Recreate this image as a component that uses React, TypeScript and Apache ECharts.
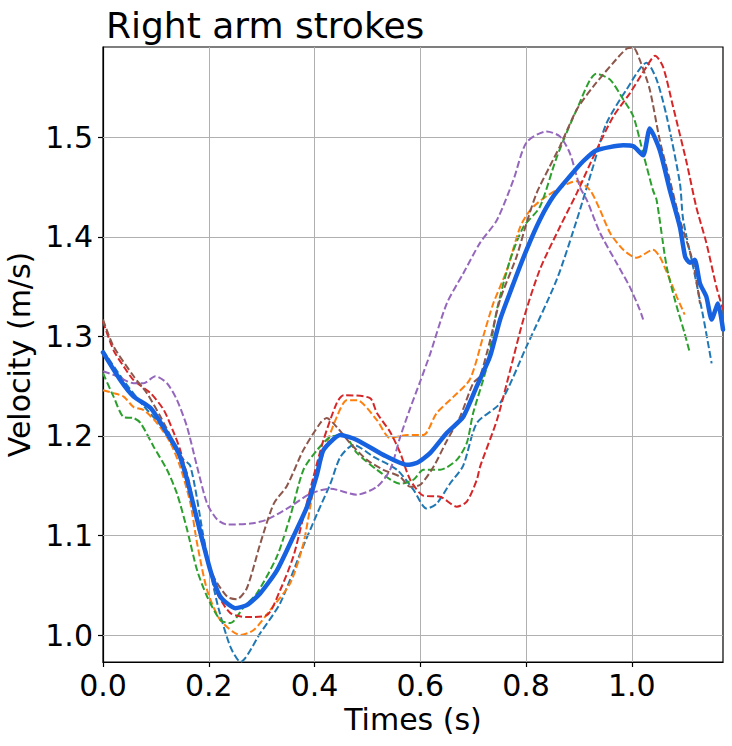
import React, { useEffect, useRef } from "react";
import * as echarts from "echarts";

const title = "Right arm strokes";
const xName = "Times (s)";
const yName = "Velocity (m/s)";
const xTicks = [0, 0.2, 0.4, 0.6, 0.8, 1.0];
const yTicks = [1.0, 1.1, 1.2, 1.3, 1.4, 1.5];
const xRange = [0, 1.1725];
const yRange = [0.9729, 1.5908];

const stroke1 = [[0,1.286],[0.04,1.255],[0.077,1.23],[0.11,1.21],[0.146,1.179],[0.165,1.17],[0.19,1.099],[0.216,1.032],[0.241,0.988],[0.26,0.973],[0.2975,1.002],[0.335,1.032],[0.373,1.082],[0.405,1.122],[0.43,1.152],[0.449,1.179],[0.474,1.191],[0.512,1.179],[0.556,1.166],[0.587,1.146],[0.612,1.127],[0.631,1.132],[0.656,1.152],[0.681,1.17],[0.707,1.213],[0.751,1.233],[0.801,1.29],[0.858,1.357],[0.896,1.417],[0.927,1.471],[0.952,1.514],[0.99,1.548],[1.028,1.575],[1.047,1.558],[1.066,1.521],[1.091,1.454],[1.097,1.418],[1.116,1.37],[1.135,1.32],[1.151,1.273]];
const stroke2 = [[0,1.246],[0.02,1.243],[0.039,1.2395],[0.058,1.229],[0.077,1.226],[0.102,1.213],[0.1275,1.193],[0.146,1.169],[0.165,1.133],[0.178,1.092],[0.197,1.045],[0.222,1.015],[0.26,1.0],[0.285,1.005],[0.316,1.025],[0.354,1.052],[0.379,1.092],[0.398,1.146],[0.417,1.183],[0.442,1.219],[0.461,1.236],[0.48,1.236],[0.518,1.216],[0.543,1.198],[0.575,1.201],[0.606,1.201],[0.631,1.223],[0.663,1.2395],[0.694,1.257],[0.719,1.3],[0.738,1.333],[0.764,1.367],[0.789,1.41],[0.808,1.427],[0.839,1.441],[0.896,1.456],[0.921,1.447],[0.94,1.427],[0.959,1.404],[0.984,1.387],[1.009,1.379],[1.04,1.387],[1.053,1.38],[1.072,1.357],[1.085,1.34],[1.1,1.322]];
const stroke3 = [[0,1.263],[0.02,1.2395],[0.039,1.219],[0.058,1.218],[0.071,1.213],[0.096,1.189],[0.121,1.166],[0.14,1.142],[0.159,1.106],[0.178,1.065],[0.197,1.0385],[0.222,1.015],[0.241,1.012],[0.266,1.028],[0.291,1.042],[0.329,1.079],[0.354,1.119],[0.379,1.166],[0.405,1.186],[0.43,1.199],[0.455,1.201],[0.48,1.183],[0.518,1.166],[0.562,1.152],[0.587,1.156],[0.606,1.166],[0.6375,1.166],[0.669,1.176],[0.688,1.193],[0.7,1.223],[0.726,1.27],[0.745,1.327],[0.77,1.377],[0.795,1.41],[0.826,1.43],[0.858,1.48],[0.896,1.528],[0.933,1.564],[0.959,1.558],[0.984,1.538],[1.003,1.521],[1.0215,1.484],[1.04,1.447],[1.047,1.437],[1.066,1.37],[1.085,1.33],[1.1,1.303],[1.11,1.283]];
const stroke4 = [[0,1.315],[0.02,1.286],[0.039,1.27],[0.058,1.256],[0.09,1.243],[0.115,1.226],[0.134,1.203],[0.146,1.186],[0.165,1.146],[0.184,1.102],[0.203,1.065],[0.216,1.042],[0.241,1.022],[0.272,1.018],[0.31,1.02],[0.335,1.045],[0.36,1.079],[0.379,1.119],[0.398,1.159],[0.417,1.196],[0.442,1.233],[0.455,1.241],[0.505,1.238],[0.518,1.223],[0.543,1.204],[0.562,1.183],[0.581,1.156],[0.606,1.14],[0.6375,1.139],[0.669,1.129],[0.688,1.134],[0.707,1.156],[0.713,1.169],[0.745,1.216],[0.77,1.266],[0.795,1.317],[0.826,1.367],[0.864,1.41],[0.896,1.444],[0.933,1.487],[0.965,1.521],[0.996,1.544],[1.028,1.571],[1.044,1.582],[1.059,1.571],[1.078,1.531],[1.104,1.474],[1.122,1.43],[1.141,1.394],[1.16,1.35],[1.1725,1.327]];
const stroke5 = [[0,1.265],[0.027,1.26],[0.058,1.253],[0.077,1.253],[0.099,1.26],[0.121,1.253],[0.14,1.236],[0.159,1.209],[0.178,1.169],[0.197,1.132],[0.216,1.116],[0.235,1.111],[0.279,1.112],[0.31,1.116],[0.354,1.129],[0.392,1.142],[0.43,1.147],[0.48,1.141],[0.518,1.149],[0.543,1.166],[0.562,1.199],[0.581,1.228],[0.6,1.255],[0.619,1.283],[0.65,1.333],[0.681,1.363],[0.713,1.394],[0.745,1.417],[0.776,1.457],[0.801,1.495],[0.839,1.506],[0.864,1.501],[0.883,1.484],[0.902,1.45],[0.915,1.437],[0.94,1.404],[0.971,1.374],[0.996,1.35],[1.015,1.327],[1.0215,1.317]];
const stroke6 = [[0,1.317],[0.02,1.29],[0.058,1.26],[0.083,1.243],[0.109,1.219],[0.134,1.193],[0.159,1.162],[0.184,1.099],[0.209,1.059],[0.235,1.0385],[0.253,1.036],[0.272,1.047],[0.2975,1.092],[0.323,1.132],[0.348,1.15],[0.379,1.186],[0.411,1.213],[0.423,1.218],[0.442,1.209],[0.467,1.193],[0.499,1.176],[0.53,1.166],[0.562,1.159],[0.581,1.149],[0.6,1.151],[0.625,1.169],[0.65,1.195],[0.675,1.219],[0.7,1.253],[0.713,1.26],[0.732,1.296],[0.751,1.337],[0.782,1.38],[0.801,1.414],[0.82,1.444],[0.845,1.471],[0.864,1.491],[0.896,1.528],[0.927,1.551],[0.965,1.575],[0.99,1.589],[1.003,1.59],[1.015,1.578],[1.034,1.548],[1.053,1.497],[1.072,1.457],[1.091,1.417],[1.116,1.374],[1.129,1.333]];
const meanStroke = [[0,1.284],[0.033,1.256],[0.058,1.2395],[0.09,1.228],[0.121,1.203],[0.143,1.183],[0.159,1.156],[0.178,1.116],[0.203,1.065],[0.222,1.0385],[0.25,1.027],[0.272,1.03],[0.2975,1.042],[0.329,1.065],[0.36,1.099],[0.386,1.129],[0.405,1.162],[0.417,1.186],[0.449,1.201],[0.48,1.196],[0.53,1.181],[0.575,1.171],[0.594,1.173],[0.619,1.183],[0.65,1.203],[0.681,1.219],[0.707,1.25],[0.732,1.28],[0.751,1.317],[0.776,1.353],[0.801,1.387],[0.826,1.417],[0.852,1.441],[0.883,1.461],[0.908,1.476],[0.933,1.487],[0.984,1.492],[1.003,1.491],[1.0215,1.482],[1.034,1.509],[1.053,1.487],[1.072,1.447],[1.091,1.41],[1.101,1.38],[1.11,1.374],[1.119,1.377],[1.129,1.353],[1.141,1.34],[1.151,1.317],[1.163,1.333],[1.1725,1.307]];

const strokes = [stroke1, stroke2, stroke3, stroke4, stroke5, stroke6];
const strokeColors = ["#1f77b4", "#ff7f0e", "#2ca02c", "#d62728", "#9467bd", "#8c564b"];
const meanColor = "#1662e0";

const FONT = "DejaVu Sans";

export default function App() {
  const ref = useRef<HTMLDivElement>(null);
  useEffect(() => {
    if (!ref.current) return;
    const chart = echarts.init(ref.current, null, { renderer: "svg" });
    const series: any[] = [
      {
        type: "line",
        data: [],
        z: 1,
        silent: true,
        markLine: {
          silent: true,
          symbol: "none",
          label: { show: false },
          lineStyle: { color: "#b0b0b0", width: 1, type: "solid" },
          data: yTicks.map((v) => ({ yAxis: v })),
        },
      },
    ];
    strokes.forEach((d, i) => {
      series.push({
        type: "line",
        data: d,
        showSymbol: false,
        smooth: 0.25,
        z: 2 + i,
        lineStyle: { color: strokeColors[i], width: 2, type: [7, 3] },
      });
    });
    series.push({
      type: "line",
      data: meanStroke,
      showSymbol: false,
      smooth: 0.2,
      z: 10,
      lineStyle: { color: meanColor, width: 4.5, cap: "round", join: "round" },
    });
    chart.setOption({
      animation: false,
      title: {
        text: title,
        left: 101,
        top: 2,
        textStyle: { fontFamily: FONT, fontSize: 36, fontWeight: "normal", color: "#000" },
      },
      grid: {
        left: 103,
        right: 9,
        top: 47,
        bottom: 84,
        show: true,
        borderColor: "#000",
        borderWidth: 1.2,
        containLabel: false,
        outerBoundsMode: "none",
      },
      xAxis: {
        type: "value",
        min: xRange[0],
        max: xRange[1],
        interval: 0.2,
        name: xName,
        nameLocation: "middle",
        nameGap: 42,
        nameTextStyle: { fontFamily: FONT, fontSize: 30, color: "#000" },
        axisLine: { show: true, onZero: false, lineStyle: { color: "#000", width: 1.2 } },
        axisTick: { show: true, length: 5, lineStyle: { color: "#000", width: 1.2 }, customValues: xTicks },
        axisLabel: {
          fontFamily: FONT,
          fontSize: 30,
          color: "#000",
          margin: 8,
          customValues: xTicks,
          formatter: (v: number) => v.toFixed(1),
        },
        splitLine: { show: true, lineStyle: { color: "#b0b0b0", width: 1 } },
      },
      yAxis: {
        type: "value",
        min: yRange[0],
        max: yRange[1],
        name: yName,
        nameLocation: "middle",
        nameGap: 60,
        nameRotate: 90,
        nameTextStyle: { fontFamily: FONT, fontSize: 30, color: "#000" },
        axisLine: { show: true, onZero: false, lineStyle: { color: "#000", width: 1.2 } },
        axisTick: { show: true, length: 5, lineStyle: { color: "#000", width: 1.2 }, customValues: yTicks },
        axisLabel: {
          fontFamily: FONT,
          fontSize: 30,
          color: "#000",
          margin: 10,
          customValues: yTicks,
          formatter: (v: number) => v.toFixed(1),
        },
        splitLine: { show: false },
      },
      series,
    });
    return () => chart.dispose();
  }, []);
  return <div ref={ref} style={{ width: 732, height: 746, position: "absolute", left: 0, top: 0 }} />;
}
